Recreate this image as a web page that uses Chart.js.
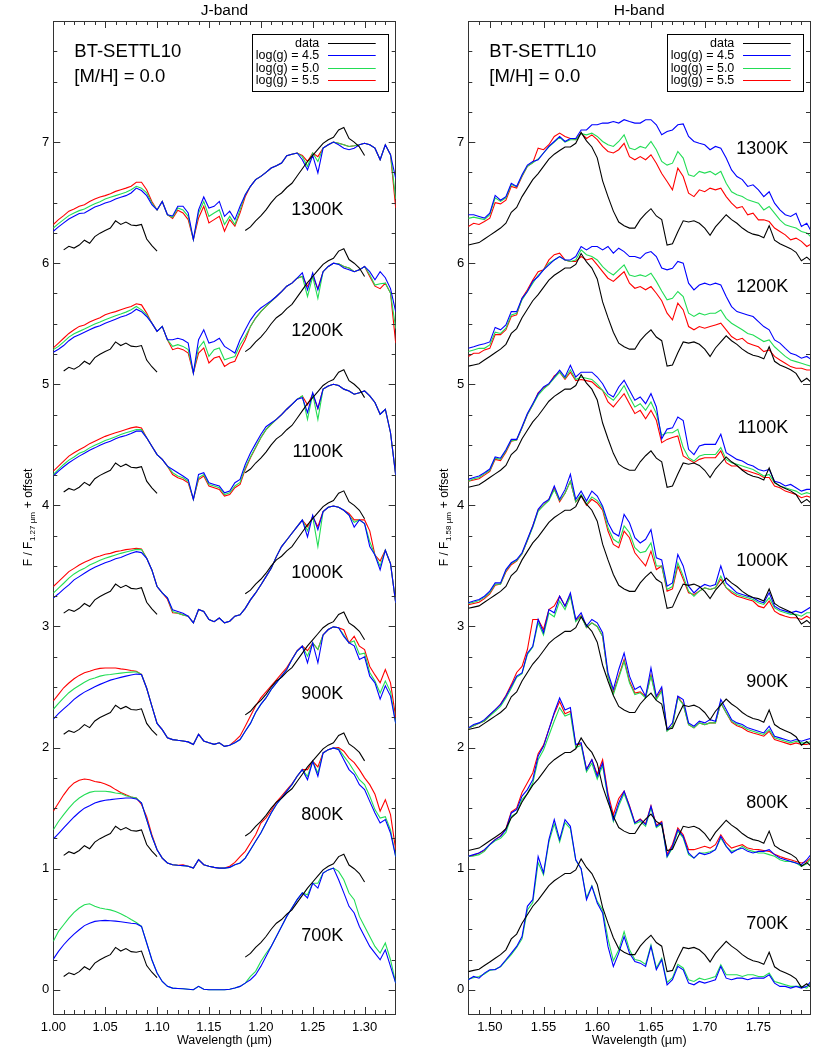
<!DOCTYPE html>
<html><head><meta charset="utf-8">
<script src="https://cdn.jsdelivr.net/npm/chart.js@4.4.1/dist/chart.umd.min.js"></script>
<style>
html,body{margin:0;padding:0;background:#fff;}
#wrap{position:relative;width:830px;height:1057px;background:#fff;}
canvas{position:absolute;top:0;}
#cJ{left:0;} #cH{left:415px;}
</style></head><body>
<div id="wrap"><canvas id="cJ" width="415" height="1057"></canvas><canvas id="cH" width="415" height="1057"></canvas></div>
<script>
// ---------- categories / ticks ----------
const temperatures = ['700K','800K','900K','1000K','1100K','1200K','1300K'];
const offsets = [0,1,2,3,4,5,6];
const seriesLabels = ['data','log(g) = 4.5','log(g) = 5.0','log(g) = 5.5'];
const jTicks = [1.00,1.05,1.10,1.15,1.20,1.25,1.30];
const hTicks = [1.50,1.55,1.60,1.65,1.70,1.75];
const yTicks = [0,1,2,3,4,5,6,7];

// ---------- J band wavelength grid (um) ----------
const jWave = [1.000,1.005,1.010,1.015,1.020,1.025,1.030,1.035,1.040,1.045,
 1.050,1.055,1.060,1.065,1.070,1.075,1.080,1.085,1.090,1.095,
 1.100,1.105,1.110,1.115,1.120,1.125,1.130,1.135,1.140,1.145,
 1.150,1.155,1.160,1.165,1.170,1.175,1.180,1.185,1.190,1.195,
 1.200,1.205,1.210,1.215,1.220,1.225,1.230,1.235,1.240,1.245,
 1.250,1.255,1.260,1.265,1.270,1.275,1.280,1.285,1.290,1.295,
 1.300,1.305,1.310,1.315,1.320,1.325,1.330];

const jData = [null,null,0.11,0.14,0.125,0.15,0.19,0.165,0.22,0.248,
 0.27,0.29,0.35,0.32,0.34,0.315,0.31,0.32,0.2,0.145,
 0.1,null,null,null,null,null,null,null,null,null,
 null,null,null,null,null,null,null,0.27,0.3,0.35,
 0.39,0.44,0.5,0.55,0.58,0.625,0.66,0.72,0.78,0.84,
 0.89,0.94,0.99,1.02,1.04,1.1,1.12,1.03,1.0,0.96,
 0.89,null,null,null,null,null,null];

const j1300g45 = [0.264,0.30,0.333,0.365,0.387,0.41,0.415,0.44,0.464,0.478,
 0.497,0.51,0.53,0.544,0.558,0.58,0.62,0.60,0.558,0.483,
 0.44,0.51,0.40,0.39,0.47,0.47,0.415,0.195,0.44,0.547,
 0.456,0.47,0.51,0.387,0.43,0.36,0.47,0.566,0.635,0.69,
 0.717,0.75,0.786,0.805,0.827,0.887,0.90,0.91,0.854,0.77,
 0.89,0.745,0.95,0.978,1.0,0.978,0.95,0.937,0.95,0.978,
 0.99,0.978,0.95,0.854,0.978,0.896,0.70];
const j1300g50 = [0.291,0.327,0.36,0.393,0.415,0.434,0.448,0.47,0.49,0.508,
 0.53,0.544,0.558,0.571,0.585,0.607,0.635,0.62,0.58,0.497,
 0.44,0.51,0.40,0.38,0.456,0.44,0.387,0.195,0.415,0.51,
 0.387,0.415,0.44,0.32,0.387,0.32,0.44,0.566,0.635,0.69,
 0.717,0.75,0.786,0.805,0.827,0.887,0.90,0.91,0.88,0.80,
 0.91,0.84,0.95,0.978,1.0,0.99,0.978,0.964,0.97,0.978,
 0.99,0.978,0.95,0.854,0.978,0.896,0.53];
const j1300g55 = [0.319,0.36,0.393,0.43,0.448,0.47,0.483,0.51,0.53,0.547,
 0.558,0.574,0.593,0.607,0.62,0.635,0.668,0.668,0.607,0.51,
 0.44,0.51,0.40,0.37,0.437,0.415,0.36,0.195,0.374,0.47,
 0.333,0.36,0.387,0.264,0.36,0.305,0.415,0.55,0.635,0.69,
 0.717,0.75,0.786,0.805,0.827,0.887,0.90,0.91,0.89,0.84,
 0.91,0.88,0.95,0.978,1.0,0.99,0.978,0.964,0.97,0.978,
 0.99,0.978,0.95,0.854,0.978,0.896,0.456];

const j1200g45 = [0.264,0.29,0.32,0.36,0.39,0.41,0.43,0.45,0.47,0.483,
 0.505,0.52,0.538,0.555,0.568,0.588,0.62,0.60,0.56,0.505,
 0.437,0.478,0.368,0.368,0.38,0.368,0.34,0.093,0.368,0.45,
 0.34,0.354,0.38,0.313,0.286,0.258,0.368,0.45,0.53,0.59,
 0.63,0.66,0.69,0.725,0.766,0.81,0.835,0.876,0.92,0.78,
 0.92,0.78,0.93,0.973,1.0,0.99,0.96,0.945,0.93,0.945,
 0.973,0.93,0.863,0.93,0.88,0.79,0.6];
const j1200g50 = [0.286,0.313,0.35,0.39,0.418,0.437,0.456,0.478,0.497,0.514,
 0.533,0.55,0.566,0.58,0.596,0.615,0.643,0.615,0.574,0.505,
 0.437,0.478,0.368,0.313,0.327,0.313,0.286,0.093,0.30,0.354,
 0.23,0.286,0.30,0.203,0.217,0.23,0.327,0.395,0.478,0.547,
 0.60,0.643,0.684,0.725,0.766,0.81,0.835,0.876,0.89,0.725,
 0.89,0.71,0.93,0.973,1.0,0.995,0.973,0.96,0.93,0.945,
 0.973,0.904,0.82,0.83,0.835,0.753,0.46];
const j1200g55 = [0.30,0.34,0.38,0.42,0.45,0.478,0.49,0.514,0.533,0.55,
 0.574,0.588,0.60,0.615,0.63,0.643,0.665,0.656,0.588,0.505,
 0.437,0.478,0.368,0.286,0.30,0.286,0.258,0.093,0.258,0.30,
 0.176,0.217,0.23,0.148,0.176,0.19,0.286,0.368,0.478,0.547,
 0.60,0.643,0.684,0.725,0.766,0.81,0.835,0.876,0.89,0.81,
 0.89,0.79,0.93,0.973,1.0,0.995,0.973,0.96,0.93,0.945,
 0.973,0.89,0.81,0.79,0.835,0.753,0.34];

const j1100g45 = [0.242,0.283,0.319,0.352,0.38,0.407,0.43,0.456,0.475,0.497,
 0.516,0.53,0.55,0.566,0.577,0.593,0.613,0.613,0.558,0.489,
 0.42,0.38,0.324,0.297,0.27,0.242,0.214,0.05,0.255,0.27,
 0.187,0.173,0.16,0.104,0.118,0.187,0.214,0.338,0.433,0.51,
 0.585,0.65,0.68,0.71,0.75,0.794,0.835,0.876,0.89,0.766,
 0.93,0.8,0.96,0.986,1.0,0.99,0.96,0.945,0.918,0.93,
 0.945,0.904,0.85,0.753,0.794,0.6,0.25];
const j1100g50 = [0.255,0.297,0.338,0.374,0.40,0.43,0.448,0.475,0.497,0.516,
 0.535,0.55,0.566,0.585,0.60,0.613,0.626,0.626,0.558,0.489,
 0.42,0.38,0.324,0.27,0.242,0.228,0.2,0.05,0.228,0.255,
 0.173,0.16,0.146,0.09,0.104,0.16,0.19,0.31,0.40,0.48,
 0.558,0.626,0.67,0.71,0.75,0.794,0.835,0.876,0.904,0.71,
 0.918,0.71,0.96,0.986,1.0,0.99,0.96,0.945,0.918,0.93,
 0.945,0.904,0.85,0.753,0.794,0.6,0.25];
const j1100g55 = [0.283,0.324,0.365,0.407,0.434,0.46,0.483,0.51,0.53,0.55,
 0.57,0.585,0.60,0.613,0.626,0.64,0.648,0.64,0.558,0.489,
 0.42,0.38,0.324,0.255,0.228,0.214,0.187,0.05,0.214,0.242,
 0.16,0.146,0.132,0.077,0.09,0.146,0.173,0.297,0.393,0.475,
 0.558,0.626,0.67,0.71,0.75,0.794,0.835,0.876,0.904,0.83,
 0.918,0.8,0.96,0.986,1.0,0.99,0.96,0.945,0.918,0.93,
 0.945,0.904,0.85,0.753,0.794,0.6,0.25];

const j1000g45 = [0.234,0.27,0.308,0.343,0.385,0.412,0.44,0.467,0.49,0.508,
 0.527,0.54,0.56,0.57,0.588,0.604,0.618,0.61,0.563,0.467,
 0.33,0.277,0.236,0.137,0.124,0.11,0.085,0.03,0.14,0.124,
 0.058,0.04,0.07,0.03,0.044,0.085,0.096,0.15,0.22,0.277,
 0.343,0.412,0.48,0.577,0.66,0.714,0.77,0.824,0.879,0.74,
 0.92,0.8,0.948,0.984,0.995,0.984,0.96,0.92,0.82,0.88,
 0.85,0.66,0.59,0.467,0.63,0.52,0.195];
const j1000g50 = [0.275,0.316,0.357,0.40,0.434,0.46,0.48,0.508,0.527,0.547,
 0.563,0.577,0.59,0.604,0.615,0.626,0.637,0.635,0.563,0.467,
 0.33,0.277,0.236,0.124,0.11,0.096,0.085,0.03,0.14,0.124,
 0.058,0.04,0.07,0.03,0.044,0.085,0.096,0.15,0.22,0.277,
 0.343,0.412,0.48,0.577,0.66,0.714,0.77,0.824,0.879,0.79,
 0.907,0.66,0.948,0.984,0.995,0.984,0.96,0.92,0.86,0.88,
 0.85,0.7,0.59,0.5,0.63,0.52,0.195];
const j1000g55 = [0.33,0.37,0.412,0.453,0.48,0.508,0.53,0.55,0.57,0.582,
 0.596,0.604,0.618,0.626,0.635,0.64,0.645,0.64,0.563,0.467,
 0.33,0.277,0.225,0.113,0.11,0.096,0.085,0.03,0.14,0.124,
 0.058,0.04,0.07,0.03,0.044,0.085,0.096,0.15,0.22,0.277,
 0.343,0.412,0.48,0.577,0.66,0.714,0.77,0.824,0.879,0.824,
 0.907,0.824,0.948,0.984,0.995,0.984,0.96,0.933,0.88,0.88,
 0.88,0.79,0.59,0.54,0.63,0.52,0.195];

const j900g45 = [0.234,0.28,0.32,0.357,0.398,0.43,0.458,0.48,0.503,0.522,
 0.54,0.557,0.568,0.58,0.59,0.6,0.607,0.604,0.49,0.343,
 0.2,0.148,0.08,0.066,0.06,0.055,0.047,0.025,0.11,0.055,
 0.04,0.027,0.04,0.01,0.02,0.04,0.066,0.135,0.2,0.29,
 0.357,0.41,0.48,0.535,0.59,0.645,0.727,0.797,0.838,0.7,
 0.865,0.7,0.93,0.975,0.997,0.99,0.918,0.865,0.84,0.727,
 0.75,0.59,0.535,0.4,0.51,0.425,0.2];
const j900g50 = [0.316,0.365,0.41,0.453,0.486,0.513,0.54,0.563,0.574,0.59,
 0.6,0.604,0.61,0.615,0.62,0.623,0.626,0.604,0.49,0.343,
 0.2,0.148,0.08,0.066,0.06,0.055,0.047,0.025,0.11,0.055,
 0.04,0.027,0.04,0.01,0.02,0.04,0.066,0.135,0.2,0.29,
 0.357,0.41,0.48,0.535,0.59,0.645,0.727,0.797,0.838,0.755,
 0.865,0.81,0.93,0.975,0.997,0.99,0.93,0.865,0.88,0.77,
 0.78,0.62,0.55,0.45,0.55,0.46,0.2];
const j900g55 = [0.385,0.44,0.494,0.533,0.568,0.596,0.618,0.63,0.645,0.654,
 0.657,0.657,0.657,0.65,0.645,0.637,0.63,0.604,0.49,0.343,
 0.2,0.148,0.08,0.066,0.06,0.055,0.047,0.025,0.11,0.055,
 0.04,0.027,0.04,0.01,0.02,0.055,0.096,0.176,0.26,0.343,
 0.41,0.46,0.51,0.56,0.61,0.66,0.73,0.80,0.838,0.80,
 0.865,0.81,0.93,0.975,0.997,0.99,0.973,0.865,0.92,0.838,
 0.81,0.67,0.6,0.535,0.645,0.535,0.25];

const j800g45 = [0.245,0.29,0.336,0.383,0.427,0.466,0.5,0.52,0.543,0.556,
 0.565,0.57,0.576,0.58,0.584,0.584,0.576,0.543,0.405,0.267,
 0.157,0.088,0.047,0.033,0.028,0.025,0.02,0.005,0.074,0.033,
 0.02,0.011,0.005,0.005,0.011,0.033,0.047,0.088,0.157,0.226,
 0.295,0.377,0.46,0.53,0.584,0.64,0.694,0.763,0.818,0.735,
 0.887,0.763,0.956,0.983,0.997,0.983,0.9,0.818,0.777,0.694,
 0.653,0.556,0.46,0.377,0.405,0.295,0.1];
const j800g50 = [0.322,0.39,0.446,0.5,0.548,0.584,0.61,0.63,0.64,0.64,
 0.64,0.634,0.625,0.62,0.603,0.592,0.584,0.543,0.405,0.267,
 0.157,0.088,0.047,0.033,0.028,0.025,0.02,0.005,0.074,0.033,
 0.02,0.011,0.005,0.005,0.011,0.033,0.047,0.088,0.157,0.226,
 0.295,0.377,0.46,0.53,0.584,0.64,0.694,0.763,0.818,0.763,
 0.887,0.79,0.956,0.983,0.997,0.99,0.93,0.873,0.805,0.735,
 0.694,0.598,0.488,0.418,0.43,0.32,0.1];
const j800g55 = [0.474,0.543,0.61,0.667,0.708,0.73,0.74,0.735,0.72,0.713,
 0.70,0.68,0.653,0.63,0.61,0.592,0.584,0.53,0.43,0.28,
 0.157,0.088,0.047,0.033,0.028,0.033,0.02,0.005,0.074,0.033,
 0.02,0.011,0.005,0.005,0.02,0.052,0.1,0.143,0.212,0.28,
 0.377,0.42,0.48,0.55,0.6,0.65,0.7,0.763,0.818,0.818,
 0.887,0.84,0.956,0.983,0.997,1.0,0.97,0.913,0.876,0.818,
 0.75,0.694,0.614,0.475,0.57,0.446,0.157];

const j700g45 = [0.253,0.317,0.372,0.419,0.46,0.496,0.53,0.55,0.565,0.57,
 0.573,0.57,0.567,0.562,0.556,0.55,0.545,0.523,0.386,0.248,
 0.138,0.069,0.028,0.014,0.011,0.008,0.005,0.0,0.028,0.005,
 0.0,0.0,0.0,0.0,0.005,0.014,0.028,0.055,0.083,0.124,
 0.193,0.275,0.358,0.44,0.523,0.606,0.675,0.744,0.8,0.758,
 0.88,0.84,0.964,0.99,1.005,0.909,0.8,0.689,0.634,0.523,
 0.44,0.358,0.303,0.248,0.33,0.193,0.055];
const j700g50 = [0.4,0.482,0.537,0.592,0.64,0.675,0.702,0.71,0.689,0.675,
 0.667,0.66,0.647,0.628,0.606,0.58,0.556,0.523,0.386,0.248,
 0.138,0.069,0.028,0.014,0.011,0.008,0.005,0.0,0.028,0.005,
 0.0,0.0,0.0,0.0,0.005,0.014,0.028,0.055,0.11,0.152,
 0.234,0.3,0.358,0.44,0.523,0.606,0.675,0.744,0.8,0.785,
 0.88,0.88,0.964,0.99,1.005,0.978,0.909,0.799,0.744,0.606,
 0.523,0.44,0.358,0.303,0.386,0.248,0.055];

// ---------- H band wavelength grid (um) ----------
const hWave = [1.480,1.485,1.490,1.495,1.500,1.505,1.510,1.515,1.520,1.525,
 1.530,1.535,1.540,1.545,1.550,1.555,1.560,1.565,1.570,1.575,
 1.580,1.585,1.590,1.595,1.600,1.605,1.610,1.615,1.620,1.625,
 1.630,1.635,1.640,1.645,1.650,1.655,1.660,1.665,1.670,1.675,
 1.680,1.685,1.690,1.695,1.700,1.705,1.710,1.715,1.720,1.725,
 1.730,1.735,1.740,1.745,1.750,1.755,1.760,1.765,1.770,1.775,
 1.780,1.785,1.790,1.795,1.800];

const hData = [0.15,0.16,0.17,0.2,0.23,0.26,0.29,0.33,0.42,0.46,
 0.55,0.62,0.69,0.74,0.8,0.86,0.9,0.93,0.96,0.96,
 0.99,1.08,1.01,0.96,0.87,0.68,0.55,0.43,0.34,0.31,
 0.29,0.29,0.36,0.41,0.45,0.39,0.36,0.15,0.16,0.26,
 0.35,0.34,0.35,0.33,0.29,0.23,0.3,0.35,0.4,0.36,
 0.33,0.29,0.26,0.24,0.23,0.21,0.31,0.19,0.16,0.14,
 0.12,0.09,0.02,0.05,0.01];

const h1300g45 = [0.40,0.40,0.386,0.372,0.413,0.56,0.52,0.55,0.66,0.634,
 0.73,0.81,0.84,0.854,0.91,0.964,1.005,1.047,1.005,1.03,
 1.03,1.10,1.10,1.143,1.143,1.157,1.157,1.17,1.157,1.185,
 1.17,1.157,1.157,1.185,1.185,1.143,1.06,1.088,1.10,1.143,
 1.15,1.047,1.005,0.99,0.978,0.937,0.964,0.95,0.868,0.77,
 0.716,0.69,0.634,0.647,0.606,0.55,0.59,0.496,0.44,0.40,
 0.386,0.413,0.303,0.33,0.25];
const h1300g50 = [0.37,0.38,0.37,0.36,0.40,0.54,0.51,0.54,0.65,0.63,
 0.72,0.80,0.83,0.86,0.91,0.96,1.0,1.04,1.0,1.02,
 1.02,1.07,1.06,1.074,1.047,1.005,0.978,0.964,1.005,1.06,
 0.95,0.937,0.964,0.95,1.005,0.937,0.84,0.81,0.826,0.923,
 0.868,0.73,0.716,0.758,0.744,0.758,0.73,0.758,0.66,0.59,
 0.565,0.55,0.523,0.51,0.496,0.44,0.468,0.413,0.358,0.317,
 0.303,0.29,0.262,0.25,0.207];
const h1300g55 = [0.303,0.33,0.32,0.344,0.372,0.50,0.49,0.52,0.634,0.62,
 0.716,0.80,0.83,0.95,0.937,0.978,1.047,1.074,1.047,1.03,
 1.02,1.074,1.03,1.06,1.02,0.964,0.923,0.91,0.937,0.99,
 0.88,0.854,0.88,0.854,0.895,0.826,0.74,0.675,0.606,0.785,
 0.716,0.578,0.55,0.606,0.59,0.62,0.606,0.62,0.55,0.496,
 0.455,0.468,0.40,0.413,0.358,0.358,0.344,0.29,0.262,0.234,
 0.193,0.207,0.18,0.138,0.165];

const h1200g45 = [0.297,0.31,0.325,0.335,0.35,0.47,0.45,0.49,0.6,0.6,
 0.71,0.766,0.85,0.89,0.945,0.986,1.027,1.055,1.027,1.027,
 1.055,1.138,1.11,1.138,1.138,1.11,1.138,1.083,1.124,1.096,
 1.055,1.055,1.04,1.083,1.096,1.055,0.96,0.945,0.958,1.014,
 1.0,0.835,0.78,0.82,0.835,0.82,0.835,0.82,0.725,0.642,
 0.6,0.587,0.573,0.56,0.518,0.477,0.45,0.366,0.34,0.297,
 0.256,0.242,0.215,0.23,0.2];
const h1200g50 = [0.27,0.284,0.297,0.297,0.325,0.43,0.42,0.463,0.573,0.587,
 0.697,0.766,0.835,0.9,0.945,1.0,1.027,1.055,1.027,1.014,
 1.027,1.11,1.07,1.055,1.027,0.972,0.93,0.903,0.945,0.986,
 0.903,0.89,0.903,0.89,0.917,0.85,0.77,0.697,0.71,0.766,
 0.725,0.587,0.56,0.587,0.573,0.587,0.587,0.614,0.545,0.504,
 0.477,0.45,0.42,0.407,0.38,0.353,0.366,0.31,0.27,0.23,
 0.2,0.187,0.173,0.16,0.146];
const h1200g55 = [0.23,0.256,0.256,0.284,0.297,0.41,0.41,0.45,0.56,0.573,
 0.71,0.78,0.86,0.93,0.945,1.027,1.07,1.083,1.027,1.014,
 1.014,1.055,1.027,1.04,0.986,0.93,0.876,0.85,0.89,0.93,
 0.835,0.793,0.807,0.78,0.807,0.752,0.69,0.587,0.532,0.67,
 0.614,0.477,0.45,0.477,0.463,0.477,0.49,0.504,0.45,0.394,
 0.366,0.38,0.34,0.325,0.31,0.27,0.284,0.23,0.2,0.173,
 0.146,0.132,0.132,0.118,0.118];

const h1100g45 = [0.215,0.23,0.242,0.27,0.3,0.40,0.39,0.46,0.545,0.545,
 0.65,0.758,0.84,0.923,0.978,1.005,1.06,1.116,1.06,1.157,
 1.06,1.1,1.1,1.1,1.06,1.005,0.923,0.895,0.978,1.033,
 0.95,0.868,0.895,0.84,0.923,0.813,0.55,0.63,0.64,0.73,
 0.70,0.463,0.42,0.49,0.504,0.504,0.504,0.587,0.435,0.408,
 0.38,0.366,0.34,0.325,0.297,0.284,0.297,0.2,0.187,0.16,
 0.173,0.146,0.118,0.132,0.132];
const h1100g50 = [0.20,0.22,0.23,0.26,0.29,0.39,0.38,0.45,0.535,0.54,
 0.64,0.75,0.83,0.91,0.96,1.0,1.05,1.10,1.05,1.12,
 1.04,1.06,1.05,1.04,1.0,0.95,0.90,0.868,0.923,0.99,
 0.895,0.813,0.84,0.785,0.854,0.758,0.58,0.6,0.6,0.628,
 0.477,0.394,0.366,0.408,0.42,0.42,0.42,0.477,0.38,0.353,
 0.34,0.325,0.31,0.297,0.27,0.242,0.256,0.187,0.16,0.146,
 0.132,0.118,0.09,0.105,0.09];
const h1100g55 = [0.20,0.21,0.22,0.25,0.28,0.38,0.37,0.44,0.53,0.54,
 0.64,0.75,0.83,0.93,0.97,1.0,1.07,1.10,1.04,1.1,
 1.03,1.04,1.03,1.02,0.98,0.95,0.854,0.813,0.868,0.923,
 0.84,0.758,0.785,0.716,0.785,0.703,0.518,0.545,0.56,0.573,
 0.408,0.38,0.353,0.38,0.394,0.394,0.394,0.45,0.353,0.325,
 0.325,0.297,0.284,0.27,0.256,0.23,0.23,0.16,0.146,0.118,
 0.105,0.09,0.063,0.077,0.063];

const h1000g45 = [0.196,0.21,0.223,0.25,0.292,0.36,0.36,0.47,0.526,0.553,
 0.609,0.72,0.83,0.967,1.02,1.05,1.16,1.05,1.13,1.256,
 1.05,1.118,1.036,1.118,1.077,0.994,0.857,0.774,0.747,0.926,
 0.857,0.733,0.69,0.72,0.8,0.567,0.55,0.333,0.36,0.595,
 0.5,0.333,0.278,0.32,0.347,0.333,0.347,0.5,0.36,0.32,
 0.278,0.264,0.25,0.237,0.21,0.196,0.278,0.168,0.14,0.127,
 0.113,0.127,0.113,0.14,0.168];
const h1000g50 = [0.19,0.2,0.215,0.24,0.28,0.35,0.35,0.46,0.52,0.545,
 0.6,0.71,0.82,0.95,1.0,1.04,1.13,1.04,1.1,1.2,
 1.03,1.09,1.01,1.07,1.04,0.98,0.815,0.72,0.69,0.83,
 0.774,0.65,0.609,0.62,0.69,0.5,0.5,0.306,0.33,0.526,
 0.416,0.292,0.25,0.292,0.32,0.306,0.32,0.416,0.32,0.292,
 0.264,0.25,0.237,0.223,0.196,0.182,0.237,0.154,0.127,0.113,
 0.1,0.1,0.085,0.113,0.113];
const h1000g55 = [0.18,0.19,0.2,0.23,0.27,0.34,0.35,0.45,0.51,0.54,
 0.6,0.71,0.83,0.96,1.0,1.05,1.14,1.03,1.1,1.2,
 1.03,1.08,1.0,1.05,1.02,0.96,0.788,0.678,0.65,0.788,
 0.733,0.609,0.553,0.5,0.622,0.47,0.5,0.292,0.31,0.5,
 0.39,0.278,0.264,0.292,0.32,0.306,0.32,0.39,0.32,0.278,
 0.25,0.237,0.223,0.21,0.168,0.154,0.21,0.127,0.1,0.085,
 0.072,0.072,0.058,0.085,0.058];

const h900g45 = [0.163,0.19,0.204,0.231,0.273,0.314,0.355,0.424,0.507,0.59,
 0.617,0.78,0.837,1.058,0.948,1.14,1.113,1.25,1.168,1.278,
 1.058,1.113,1.003,1.058,1.03,0.948,0.617,0.48,0.645,0.78,
 0.59,0.48,0.507,0.424,0.658,0.424,0.5,0.149,0.204,0.424,
 0.397,0.204,0.176,0.218,0.204,0.231,0.218,0.397,0.314,0.231,
 0.204,0.19,0.163,0.149,0.135,0.121,0.176,0.094,0.08,0.066,
 0.052,0.066,0.052,0.066,0.08];
const h900g50 = [0.16,0.18,0.2,0.22,0.26,0.3,0.34,0.41,0.49,0.58,
 0.61,0.77,0.83,1.03,0.93,1.11,1.08,1.21,1.14,1.25,
 1.04,1.085,0.99,1.03,1.0,0.92,0.59,0.438,0.576,0.713,
 0.534,0.438,0.452,0.41,0.59,0.397,0.466,0.135,0.176,0.41,
 0.355,0.19,0.163,0.204,0.19,0.204,0.204,0.369,0.287,0.218,
 0.19,0.176,0.149,0.135,0.121,0.108,0.149,0.08,0.066,0.052,
 0.039,0.052,0.039,0.039,0.052];
const h900g55 = [0.16,0.18,0.2,0.22,0.27,0.31,0.36,0.43,0.52,0.62,
 0.67,0.81,1.058,1.058,0.975,1.14,1.17,1.25,1.17,1.26,
 1.05,1.09,0.99,1.03,1.0,0.92,0.59,0.452,0.59,0.727,
 0.55,0.45,0.46,0.42,0.6,0.41,0.48,0.14,0.18,0.42,
 0.36,0.19,0.163,0.204,0.19,0.204,0.204,0.369,0.287,0.21,
 0.18,0.163,0.135,0.12,0.108,0.094,0.135,0.066,0.052,0.039,
 0.025,0.039,0.025,0.025,0.039];

const h800g45 = [0.102,0.116,0.13,0.157,0.198,0.24,0.267,0.322,0.46,0.488,
 0.6,0.653,0.735,0.93,1.01,1.15,1.29,1.41,1.31,1.33,
 1.025,1.04,0.818,0.9,0.763,0.873,0.6,0.405,0.543,0.64,
 0.515,0.377,0.405,0.364,0.515,0.35,0.38,0.102,0.185,0.322,
 0.267,0.13,0.088,0.13,0.116,0.13,0.157,0.267,0.185,0.13,
 0.157,0.17,0.143,0.13,0.143,0.143,0.157,0.116,0.088,0.074,
 0.06,0.047,0.033,0.074,0.13];
const h800g50 = [0.1,0.105,0.116,0.143,0.198,0.23,0.25,0.3,0.433,0.46,
 0.57,0.62,0.708,0.9,0.98,1.1,1.22,1.33,1.26,1.28,
 1.0,1.02,0.8,0.87,0.74,0.85,0.58,0.39,0.52,0.62,
 0.5,0.37,0.39,0.35,0.5,0.34,0.37,0.095,0.17,0.31,
 0.255,0.116,0.088,0.13,0.13,0.14,0.157,0.253,0.185,0.143,
 0.157,0.185,0.157,0.143,0.13,0.13,0.116,0.102,0.074,0.06,
 0.06,0.047,0.02,0.04,0.1];
const h800g55 = [0.1,0.11,0.13,0.15,0.2,0.24,0.27,0.33,0.47,0.5,
 0.63,0.71,0.79,0.95,1.02,1.15,1.28,1.38,1.28,1.3,
 1.02,1.03,0.82,0.9,0.78,0.9,0.62,0.446,0.58,0.64,
 0.52,0.38,0.41,0.37,0.52,0.36,0.39,0.12,0.2,0.336,
 0.28,0.157,0.157,0.17,0.185,0.17,0.198,0.28,0.212,0.17,
 0.185,0.198,0.17,0.16,0.157,0.15,0.143,0.12,0.1,0.085,
 0.074,0.06,0.047,0.06,0.1];

const h700g45 = [0.083,0.11,0.096,0.138,0.165,0.165,0.193,0.248,0.303,0.358,
 0.44,0.689,0.744,1.1,0.964,1.24,1.405,1.24,1.405,1.35,
 1.074,1.0,0.744,0.854,0.716,0.634,0.358,0.193,0.303,0.44,
 0.303,0.234,0.22,0.193,0.358,0.165,0.248,0.041,0.083,0.193,
 0.165,0.055,0.041,0.069,0.055,0.069,0.083,0.193,0.096,0.083,
 0.096,0.096,0.083,0.096,0.096,0.096,0.124,0.055,0.028,0.028,
 0.014,0.028,0.014,0.028,0.083];
const h700g50 = [0.09,0.1,0.11,0.13,0.16,0.17,0.19,0.24,0.29,0.35,
 0.42,0.66,0.72,1.05,0.95,1.22,1.37,1.22,1.38,1.33,
 1.07,1.0,0.76,0.86,0.73,0.66,0.42,0.24,0.33,0.48,
 0.33,0.25,0.24,0.21,0.37,0.18,0.26,0.06,0.1,0.21,
 0.18,0.083,0.069,0.096,0.083,0.096,0.11,0.207,0.124,0.124,
 0.124,0.11,0.124,0.124,0.11,0.11,0.138,0.069,0.055,0.041,
 0.028,0.028,0.028,0.014,0.069];

// ---------- label positions (not data) ----------
const jLabelY = [0.4,1.4,2.4,3.4,4.4,5.4,6.4];
const hLabelY = [0.5,1.5,2.5,3.5,4.6,5.76,6.9];

const colData = '#000000', colG45 = '#0000ff', colG50 = '#22dd55', colG55 = '#ff0000';
const axisColor = '#333333';
const FONT = '"Liberation Sans", Arial, Helvetica, sans-serif';

const jRows = [
  {g45:j700g45, g50:j700g50, g55:null},
  {g45:j800g45, g50:j800g50, g55:j800g55},
  {g45:j900g45, g50:j900g50, g55:j900g55},
  {g45:j1000g45, g50:j1000g50, g55:j1000g55},
  {g45:j1100g45, g50:j1100g50, g55:j1100g55},
  {g45:j1200g45, g50:j1200g50, g55:j1200g55},
  {g45:j1300g45, g50:j1300g50, g55:j1300g55}];
const hRows = [
  {g45:h700g45, g50:h700g50, g55:null},
  {g45:h800g45, g50:h800g50, g55:h800g55},
  {g45:h900g45, g50:h900g50, g55:h900g55},
  {g45:h1000g45, g50:h1000g50, g55:h1000g55},
  {g45:h1100g45, g50:h1100g50, g55:h1100g55},
  {g45:h1200g45, g50:h1200g50, g55:h1200g55},
  {g45:h1300g45, g50:h1300g50, g55:h1300g55}];

function pts(wave, arr, off){
  return wave.map((x,i)=>({x:x, y:(arr[i]==null? null : arr[i]+off)}));
}
function buildDatasets(wave, data, rows){
  const ds = [];
  rows.forEach((r,k)=>{
    const off = offsets[k];
    if (r.g55) ds.push({label:seriesLabels[3], data:pts(wave,r.g55,off), borderColor:colG55, order:3});
    ds.push({label:seriesLabels[2], data:pts(wave,r.g50,off), borderColor:colG50, order:2});
    ds.push({label:seriesLabels[1], data:pts(wave,r.g45,off), borderColor:colG45, order:1});
    ds.push({label:seriesLabels[0], data:pts(wave,data,off), borderColor:colData, order:0});
  });
  ds.forEach(d=>{d.borderWidth=1.1; d.pointRadius=0; d.tension=0; d.fill=false; d.spanGaps=false;});
  return ds;
}

const decor = {
  id:'decor',
  afterDraw(chart, args, o){
    const ctx = chart.ctx, a = chart.chartArea, xs = chart.scales.x, ys = chart.scales.y;
    ctx.save();
    // inward tick marks
    ctx.strokeStyle = axisColor; ctx.lineWidth = 1;
    ctx.beginPath();
    for (let k = Math.round(o.xMin*100); k <= Math.round(o.xMax*100); k++){
      const v = k/100;
      const px = Math.round(xs.getPixelForValue(v))+0.5;
      if (px < a.left-0.5 || px > a.right+0.5) continue;
      const len = (k % 5 === 0) ? 7 : 4;
      ctx.moveTo(px, a.bottom); ctx.lineTo(px, a.bottom-len);
      ctx.moveTo(px, a.top); ctx.lineTo(px, a.top+len);
    }
    for (let k = 0; k <= 32; k++){
      const v = k/4;
      const py = Math.round(ys.getPixelForValue(v))+0.5;
      if (py < a.top || py > a.bottom) continue;
      const len = (k % 4 === 0) ? 7 : 4;
      ctx.moveTo(a.left, py); ctx.lineTo(a.left+len, py);
      ctx.moveTo(a.right, py); ctx.lineTo(a.right-len, py);
    }
    ctx.stroke();
    // title
    ctx.fillStyle = '#000';
    ctx.font = '15.5px ' + FONT;
    ctx.textAlign = 'center'; ctx.textBaseline = 'alphabetic';
    ctx.fillText(o.title, (a.left+a.right)/2, 15);
    // model annotation
    ctx.font = '18.5px ' + FONT; ctx.textAlign = 'left';
    ctx.fillText('BT-SETTL10', a.left+21, 57);
    ctx.fillText('[M/H] = 0.0', a.left+21, 81.5);
    // legend
    const lx0 = a.left+198.4, lx1 = a.left+334, ly0 = 33.5, ly1 = 90;
    ctx.strokeStyle = '#000'; ctx.lineWidth = 1;
    ctx.strokeRect(Math.round(lx0)+0.5, Math.round(ly0)+0.5, Math.round(lx1-lx0), Math.round(ly1-ly0));
    const cols = [colData, colG45, colG50, colG55];
    ctx.font = '12.5px ' + FONT; ctx.textAlign = 'right'; ctx.textBaseline = 'middle';
    for (let i=0;i<4;i++){
      const y = 42.7 + i*12.55;
      ctx.fillStyle = '#000';
      ctx.fillText(seriesLabels[i], a.left+266, y+0.5);
      ctx.strokeStyle = cols[i]; ctx.lineWidth = 1.2;
      ctx.beginPath(); ctx.moveTo(a.left+274.7, Math.round(y)+0.5); ctx.lineTo(a.left+322.4, Math.round(y)+0.5); ctx.stroke();
    }
    // temperature labels
    ctx.fillStyle = '#000'; ctx.font = '18px ' + FONT; ctx.textAlign = 'right'; ctx.textBaseline = 'alphabetic';
    temperatures.forEach((t,i)=>{
      ctx.fillText(t, xs.getPixelForValue(o.labelX), ys.getPixelForValue(o.labelY[i]));
    });
    // y axis title with subscript
    ctx.save();
    const cy = (a.top+a.bottom)/2;
    ctx.translate(o.yTitleX, cy); ctx.rotate(-Math.PI/2);
    const f1 = '12px ' + FONT, f2 = '8px ' + FONT;
    const p1 = 'F / F', p2 = o.sub, p3 = ' + offset';
    ctx.font = f1; const w1 = ctx.measureText(p1).width, w3 = ctx.measureText(p3).width;
    ctx.font = f2; const w2 = ctx.measureText(p2).width;
    let x = -(w1+w2+w3+1)/2;
    ctx.textAlign = 'left'; ctx.textBaseline = 'alphabetic'; ctx.fillStyle = '#000';
    ctx.font = f1; ctx.fillText(p1, x, 4); x += w1+0.5;
    ctx.font = f2; ctx.fillText(p2, x, 7); x += w2+0.5;
    ctx.font = f1; ctx.fillText(p3, x, 4);
    ctx.restore();
    ctx.restore();
  }
};

function makePanel(id, cfg){
  const border = {display:true, color:axisColor, width:1};
  new Chart(document.getElementById(id), {
    type:'line',
    data:{datasets: buildDatasets(cfg.wave, cfg.data, cfg.rows)},
    options:{
      responsive:false, animation:false, events:[],
      layout:{padding:0},
      plugins:{legend:{display:false}, tooltip:{enabled:false}, title:{display:false},
        decor:{xMin:cfg.xMin, xMax:cfg.xMax, title:cfg.title, labelX:cfg.labelX, labelY:cfg.labelY, sub:cfg.sub, yTitleX:cfg.yTitleX}},
      scales:{
        x:{type:'linear', position:'bottom', min:cfg.xMin, max:cfg.xMax,
           afterBuildTicks:s=>{s.ticks = cfg.ticks.map(v=>({value:v}));},
           ticks:{callback:v=>Number(v).toFixed(2), color:'#000', font:{family:FONT, size:13}, padding:6, maxRotation:0, autoSkip:false},
           grid:{display:false, drawTicks:false}, border:border,
           title:{display:true, text:'Wavelength (\u00b5m)', color:'#000', font:{family:FONT, size:12.5}, padding:{top:0, bottom:9}},
           afterFit:s=>{s.height = 43;}},
        xTop:{type:'linear', position:'top', min:cfg.xMin, max:cfg.xMax,
           ticks:{display:false}, grid:{display:false, drawTicks:false}, border:border,
           afterFit:s=>{s.height = 21;}},
        y:{type:'linear', position:'left', min:-0.2, max:8.0,
           afterBuildTicks:s=>{s.ticks = yTicks.map(v=>({value:v}));},
           ticks:{callback:v=>String(v), color:'#000', font:{family:FONT, size:13}, padding:4},
           grid:{display:false, drawTicks:false}, border:border,
           afterFit:s=>{s.width = 53.3;}},
        yRight:{type:'linear', position:'right', min:-0.2, max:8.0,
           ticks:{display:false}, grid:{display:false, drawTicks:false}, border:border,
           afterFit:s=>{s.width = cfg.rightW;}}
      }
    },
    plugins:[decor]
  });
}

makePanel('cJ', {wave:jWave, data:jData, rows:jRows, xMin:1.00, xMax:1.33, ticks:jTicks,
  title:'J-band', labelX:1.2794, labelY:jLabelY, sub:'1.27 \u00b5m', yTitleX:28, rightW:19.3});
makePanel('cH', {wave:hWave, data:hData, rows:hRows, xMin:1.48, xMax:1.798, ticks:hTicks,
  title:'H-band', labelX:1.7777, labelY:hLabelY, sub:'1.58 \u00b5m', yTitleX:29, rightW:20});
</script>
</body></html>
